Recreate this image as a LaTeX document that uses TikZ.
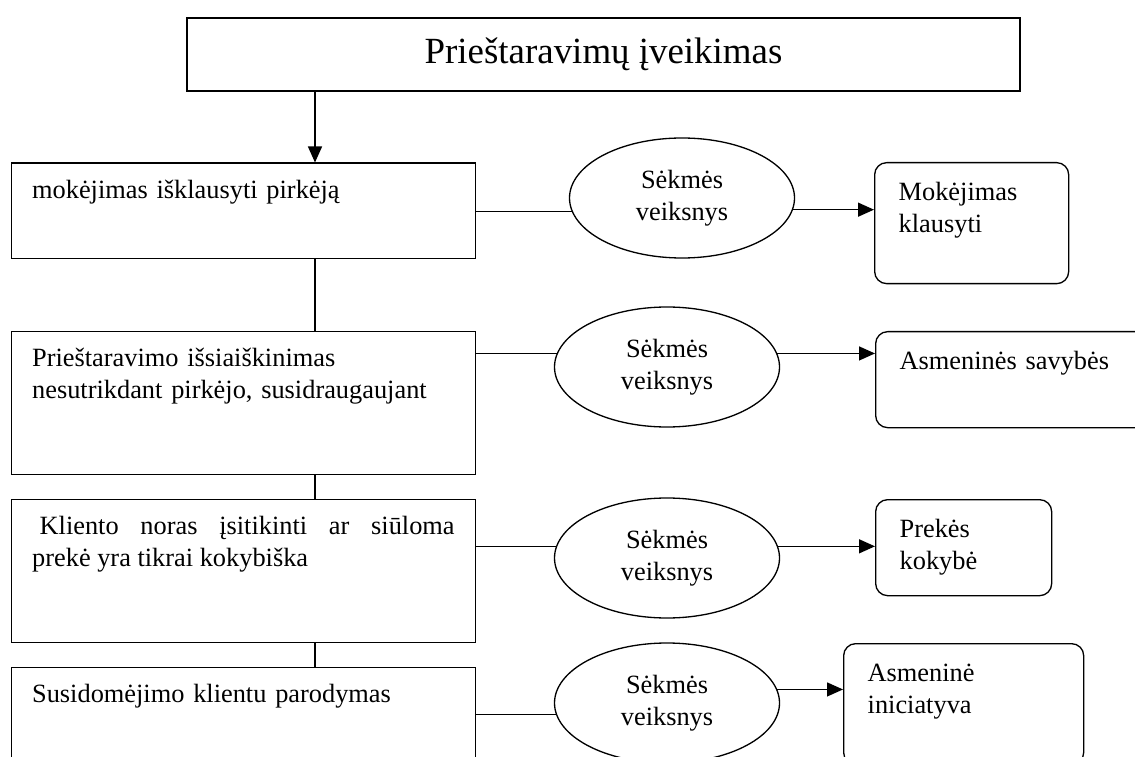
\documentclass[tikz,border=0pt]{standalone}
\usepackage{fontspec}
\setmainfont{Liberation Serif}
\usetikzlibrary{
  arrows.meta,
  shapes.geometric
}

\begin{document}
\begin{tikzpicture}[
    line width=0.75pt,
    every node/.style={font=\fontsize{15}{18.2}\selectfont},
    pagrbox/.style={draw, anchor=north west, align=left, inner xsep=0.42cm, inner ysep=0pt, text width=8.45cm, text height=0.70cm},
    veiksnys/.style={draw, ellipse, minimum width=4.5cm, minimum height=2.4cm, inner sep=0pt, align=center},
    savbox/.style={draw, rounded corners=0.24cm, anchor=north west, align=left, inner xsep=0.48cm, inner ysep=0pt, text height=0.76cm},
    rodykle/.style={-{Triangle[length=0.32cm, width=0.28cm]}}
  ]
    \useasboundingbox (0,0) rectangle (22.7,15.12);

    % Antraste
    \node[draw, line width=1pt, minimum width=16.66cm, minimum height=1.46cm, inner sep=0pt, font=\fontsize{21}{25}\selectfont] (tit) at (12.07,14.03) {Prieštaravimų įveikimas};
    \coordinate (spine) at (6.3,14);

    % 1. Klausymas
    \node[pagrbox, text depth=1.21cm] (mok) at (0.21,11.87) {mokėjimas išklausyti pirkėją};
    \node[veiksnys] (v1) at (13.64,11.16) {Sėkmės\\veiksnys};
    \node[savbox, text width=2.92cm, text depth=1.66cm] (klaus) at (17.48,11.88) {Mokėjimas\\klausyti};
    \draw[rodykle] (tit.south -| spine) -- (mok.north -| spine);
    \draw (v1.187 -| mok.east) -- (v1.187);
    \draw[rodykle] (v1.354) -- (v1.354 -| klaus.west);

    % 2. Issiaiskinimas
    \node[pagrbox, text depth=2.16cm] (isai) at (0.21,8.50) {Prieštaravimo išsiaiškinimas\\nesutrikdant pirkėjo, susidraugaujant};
    \node[veiksnys] (v2) at (13.34,7.78) {Sėkmės\\veiksnys};
    \node[savbox, text width=4.74cm, text depth=1.16cm] (savyb) at (17.50,8.50) {Asmeninės savybės};
    \draw (mok.south -| spine) -- (isai.north -| spine);
    \draw (v2.173 -| isai.east) -- (v2.173);
    \draw[rodykle] (v2.7) -- (v2.7 -| savyb.west);

    % 3. Kokybe
    \node[pagrbox, align=justify, text depth=2.16cm] (nor) at (0.21,5.14) {\hspace*{0.15cm}Kliento noras įsitikinti ar siūloma\linebreak prekė yra tikrai kokybiška};
    \node[veiksnys] (v3) at (13.34,3.96) {Sėkmės\\veiksnys};
    \node[savbox, text width=2.56cm, text depth=1.16cm] (kok) at (17.50,5.14) {Prekės\\kokybė};
    \draw (isai.south -| spine) -- (nor.north -| spine);
    \draw (v3.174 -| nor.east) -- (v3.174);
    \draw[rodykle] (v3.6) -- (v3.6 -| kok.west);

    % 4. Susidomejimas
    \node[pagrbox, text depth=2.16cm] (sus) at (0.21,1.78) {Susidomėjimo klientu parodymas};
    \node[veiksnys] (v4) at (13.34,1.06) {Sėkmės\\veiksnys};
    \node[savbox, text width=3.84cm, text depth=1.66cm] (inic) at (16.86,2.26) {Asmeninė\\iniciatyva};
    \draw (nor.south -| spine) -- (sus.north -| spine);
    \draw (v4.186 -| sus.east) -- (v4.186);
    \draw[rodykle] (v4.7) -- (v4.7 -| inic.west);
\end{tikzpicture}
\end{document}
